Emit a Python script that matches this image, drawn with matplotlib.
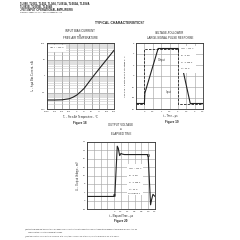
import matplotlib
matplotlib.use("Agg")
import matplotlib.pyplot as plt
import numpy as np

plt.rcParams['font.family'] = ['Liberation Sans', 'DejaVu Sans']
plt.rcParams['mathtext.default'] = 'regular'

# ---------------- data ----------------
# Figure 18: input bias current vs free-air temperature
temp_c = [-100, -75, -50, -25, -12.5, 0, 12.5, 25, 50, 75, 100, 125]
bias_na = [0.035, 0.035, 0.036, 0.042, 0.052, 0.07, 0.11, 0.18, 0.72, 2.7, 9.8, 36]
temp_ticks = [-100, -75, -50, -25, 0, 25, 50, 75, 100, 125]
bias_ticks = [0.01, 0.1, 1, 10, 100]
bias_ticklabels = ["0.01", "0.1", "1", "10", "100"]

# Figure 19: voltage follower large-signal pulse response
in_t = [-0.5, 0.0, 0.0, 2.0, 2.0, 3.5]
in_v = [-5, -5, 5, 5, -5, -5]
out_t = [-0.5, 0.0, 0.03, 0.82, 2.02, 2.74, 3.5]
out_v = [-5, -5, -3.1, 5, 5, -5, -5]
t19_ticks = [-0.5, 0, 0.5, 1, 1.5, 2, 2.5, 3, 3.5]
t19_labels = ["", "0", "0.5", "1", "1.5", "2", "2.5", "3", "3.5"]
v19_ticks = [-6, -4, -2, 0, 2, 4, 6]

# Figure 20: output voltage vs elapsed time
t20 = [-0.8, 0.0, 0.02, 0.09, 0.12, 0.16, 0.2, 0.24, 0.3, 0.98, 1.0, 1.07, 1.1, 1.14, 1.17, 1.2]
v20 = [2.0, 2.0, 3.0, 26.0, 25.0, 21.5, 22.5, 22.2, 22.0, 22.0, 21.0, -2.0, 0.5, 3.0, 2.5, 2.0]
t20_ticks = [-0.8, -0.6, -0.4, -0.2, 0, 0.2, 0.4, 0.6, 0.8, 1.0, 1.2]
t20_labels = ["", "", "", "", "0", "0.2", "0.4", "0.6", "0.8", "1.0", "1.2"]
v20_ticks = [-4, 0, 4, 8, 12, 16, 20, 24, 28]

W = H = 240.0
fig = plt.figure(figsize=(2.4, 2.4), dpi=100)
fig.patch.set_facecolor('white')

def fx(x):
    return x / W

def fy(y):
    return 1 - y / H

def box(x0, y0, x1, y1):
    return [fx(x0), fy(y1), fx(x1) - fx(x0), fy(y0) - fy(y1)]

def txt(x, y, s, size=2.0, ha='center', va='center', **kw):
    fig.text(fx(x), fy(y), s, fontsize=size, ha=ha, va=va, color='#222222', **kw)

TICK = 1.7
GRID = '#a8a8a8'
NARROW = ['Liberation Sans Narrow', 'Liberation Sans', 'DejaVu Sans']

def style(ax):
    for sp in ax.spines.values():
        sp.set_linewidth(0.6)
        sp.set_color('#333333')
    ax.tick_params(length=0, pad=1.2, labelsize=TICK, colors='#333333')

# ---------- header ----------
txt(20, 3, "TL080, TL081, TL082, TL084, TL081A, TL082A, TL084A", size=2.0, ha='left', weight='bold', family=NARROW)
txt(20, 6.3, "TL081B, TL082B, TL084B", size=2.0, ha='left', weight='bold', family=NARROW)
txt(20, 9.7, "JFET-INPUT OPERATIONAL AMPLIFIERS", size=2.0, ha='left', weight='bold', family=NARROW)
txt(20, 12.8, "SLOS081E – FEBRUARY 1977 – REVISED FEBRUARY 1999", size=1.1, ha='left', family=NARROW)
txt(120, 23, "TYPICAL CHARACTERISTICS†", size=2.4, weight='bold')

# ---------- Figure 18 ----------
ax1 = fig.add_axes(box(47, 43, 114, 109))
ax1.plot(temp_c, bias_na, color='#222222', lw=0.8)
ax1.set_yscale('log')
ax1.set_xlim(-100, 125)
ax1.set_ylim(0.01, 100)
ax1.set_xticks(temp_ticks)
ax1.set_yticks(bias_ticks)
ax1.set_yticklabels(bias_ticklabels)
ax1.yaxis.set_minor_locator(matplotlib.ticker.LogLocator(base=10, subs=np.arange(2, 10)))
ax1.yaxis.set_minor_formatter(matplotlib.ticker.NullFormatter())
ax1.grid(True, which='major', color='#888888', lw=0.5)
ax1.grid(True, which='minor', axis='y', color='#c8c8c8', lw=0.4)
ax1.tick_params(which='minor', length=0)
style(ax1)
ax1.text(0.03, 0.955, r"$V_{CC\pm}$ = ±15 V", transform=ax1.transAxes, fontsize=TICK,
         ha='left', va='top', color='#222222',
         bbox=dict(facecolor='white', edgecolor='none', pad=0.6))
txt(80, 31, "INPUT BIAS CURRENT", size=2.0)
txt(80, 34.7, "vs", size=2.0)
txt(80, 38.3, "FREE-AIR TEMPERATURE", size=2.0)
txt(80.5, 117, r"$T_A$ – Free-Air Temperature – °C", size=1.8)
txt(33, 76, r"$I_{IB}$ – Input Bias Current – nA", size=1.8, rotation=90)
txt(80, 123, "Figure 18", size=2.2, weight='bold')

# ---------- Figure 19 ----------
ax2 = fig.add_axes(box(136, 43, 203, 109))
ax2.plot(in_t, in_v, color='#222222', lw=0.6, ls=(0, (3, 1.5)))
ax2.plot(out_t, out_v, color='#222222', lw=0.8)
ax2.set_xlim(-0.5, 3.5)
ax2.set_ylim(-6, 6)
ax2.set_xticks(t19_ticks)
ax2.set_xticklabels(t19_labels)
ax2.set_yticks(v19_ticks)
ax2.grid(True, color=GRID, lw=0.45)
style(ax2)
ax2.text(0.655, 0.945, "\n".join([r"$V_{CC\pm}$ = ±15 V", r"$R_L$ = 2 kΩ", r"$C_L$ = 100 pF",
                                  r"$T_A$ = 25°C"]),
         transform=ax2.transAxes, fontsize=1.5, ha='left', va='top', color='#222222',
         linespacing=1.5, bbox=dict(facecolor='white', edgecolor='none', pad=0.5))
ax2.text(0.39, 0.74, "Output", transform=ax2.transAxes, fontsize=1.8, ha='center', va='center', color='#222222')
ax2.text(0.48, 0.26, "Input", transform=ax2.transAxes, fontsize=1.8, ha='center', va='center', color='#222222')
txt(170, 33.5, "VOLTAGE-FOLLOWER", size=2.0)
txt(170, 38, "LARGE-SIGNAL PULSE RESPONSE", size=2.0)
txt(170, 116.5, "t – Time – µs", size=1.8)
txt(126, 76, r"$V_I$ and $V_O$ – Input and Output Voltages – V", size=1.6, rotation=90)
txt(172, 122.5, "Figure 19", size=2.2, weight='bold')

# ---------- Figure 20 ----------
ax3 = fig.add_axes(box(87, 142, 155, 209))
ax3.plot(t20, v20, color='#222222', lw=0.8)
ax3.plot([0.0, 1.0], [2.8, 22.0], ls='none', marker='s', ms=1.3, mfc='none', mec='#222222', mew=0.4)
ax3.set_xlim(-0.8, 1.2)
ax3.set_ylim(-4, 28)
ax3.set_xticks(t20_ticks)
ax3.set_xticklabels(t20_labels)
ax3.set_yticks(v20_ticks)
ax3.grid(True, color=GRID, lw=0.45)
style(ax3)
ax3.text(0.60, 0.625, "\n".join([r"$V_{CC\pm}$ = ±15 V", r"$R_L$ = 2 kΩ", r"$C_L$ = 100 pF",
                                 r"$T_A$ = 25°C", "See Figure 1"]),
         transform=ax3.transAxes, fontsize=1.5, ha='left', va='top', color='#222222',
         linespacing=1.45, bbox=dict(facecolor='white', edgecolor='none', pad=0.5))
txt(121, 124.5, "OUTPUT VOLTAGE", size=2.0)
txt(121, 129, "vs", size=2.0)
txt(121, 134, "ELAPSED TIME", size=2.0)
txt(121, 215.5, "t – Elapsed Time – µs", size=1.8)
txt(78, 175.5, r"$V_O$ – Output Voltage – mV", size=1.8, rotation=90)
txt(121, 220.8, "Figure 20", size=2.2, weight='bold')

# ---------- footnotes ----------
txt(25, 229.5, "†Data at high and low temperatures are applicable only within the rated operating free-air "
    "temperature ranges of the various devices. A 12-pF", size=1.3, ha='left')
txt(28, 232.5, "compensation capacitor is used with TL080.", size=1.3, ha='left')
txt(25, 235.7, "‡The temperature range of the C suffix is 0°C to 70°C, the I suffix is –40°C to 85°C, "
    "and the M suffix is –55°C to 125°C.", size=1.3, ha='left')

fig.savefig("out.png", dpi=100, facecolor='white')
